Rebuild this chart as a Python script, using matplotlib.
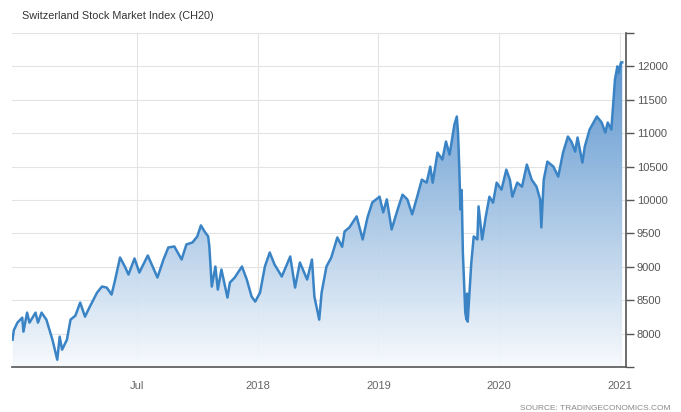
import numpy as np
import matplotlib
matplotlib.use("Agg")
import matplotlib.pyplot as plt
from matplotlib.colors import LinearSegmentedColormap

plt.rcParams["font.family"] = ["Liberation Sans", "DejaVu Sans"]

# decimal year positions and index values
years = [
    2015.97, 2015.98, 2016.01, 2016.05, 2016.06, 2016.09, 2016.11, 2016.16, 2016.18, 2016.21,
    2016.25, 2016.28, 2016.30, 2016.34, 2016.36, 2016.38, 2016.42, 2016.45, 2016.49, 2016.53,
    2016.57, 2016.61, 2016.67, 2016.71, 2016.75, 2016.79, 2016.82, 2016.86, 2016.90, 2016.93,
    2016.98, 2017.02, 2017.09, 2017.17, 2017.22, 2017.26, 2017.31, 2017.37, 2017.41, 2017.46,
    2017.50, 2017.53, 2017.56, 2017.59, 2017.60, 2017.62, 2017.65, 2017.67, 2017.70, 2017.75,
    2017.77, 2017.81, 2017.87, 2017.91, 2017.95, 2017.98, 2018.02, 2018.06, 2018.10, 2018.14,
    2018.20, 2018.27, 2018.31, 2018.35, 2018.41, 2018.45, 2018.47, 2018.51, 2018.53, 2018.57,
    2018.61, 2018.66, 2018.70, 2018.72, 2018.76, 2018.82, 2018.87, 2018.91, 2018.95, 2019.01,
    2019.04, 2019.07, 2019.11, 2019.16, 2019.20, 2019.24, 2019.28, 2019.32, 2019.36, 2019.40,
    2019.43, 2019.45, 2019.49, 2019.53, 2019.56, 2019.59, 2019.62, 2019.63, 2019.65, 2019.66,
    2019.67, 2019.68, 2019.69, 2019.70, 2019.72, 2019.73, 2019.735, 2019.74, 2019.77, 2019.79,
    2019.82, 2019.83, 2019.86, 2019.89, 2019.92, 2019.95, 2019.98, 2020.02, 2020.06, 2020.09,
    2020.11, 2020.15, 2020.19, 2020.23, 2020.27, 2020.31, 2020.34, 2020.35, 2020.37, 2020.40,
    2020.45, 2020.49, 2020.53, 2020.57, 2020.60, 2020.63, 2020.65, 2020.69, 2020.71, 2020.75,
    2020.81, 2020.85, 2020.88, 2020.90, 2020.93, 2020.94, 2020.96, 2020.98, 2020.99, 2021.01,
    2021.02,
]
values = [
    7910, 8050, 8165, 8240, 8030, 8315, 8165, 8315, 8165, 8315,
    8210, 8030, 7910, 7610, 7955, 7760, 7910, 8210, 8270, 8465,
    8255, 8405, 8615, 8705, 8690, 8585, 8810, 9140, 9005, 8885,
    9125, 8915, 9170, 8840, 9110, 9290, 9305, 9110, 9335, 9365,
    9455, 9620, 9530, 9455, 9300, 8705, 9005, 8660, 8960, 8540,
    8765, 8840, 9005, 8810, 8555, 8480, 8615, 9005, 9215, 9035,
    8855, 9155, 8690, 9065, 8810, 9110, 8555, 8210, 8615, 9005,
    9140, 9440, 9300, 9530, 9590, 9755, 9410, 9740, 9965, 10050,
    9815, 10010, 9560, 9860, 10080, 10010, 9785, 10040, 10305, 10260,
    10500, 10260, 10710, 10605, 10875, 10680, 11010, 11130, 11250, 11000,
    10500, 9860, 10150, 9215, 8315, 8210, 8600, 8180, 9065, 9455,
    9410, 9905, 9410, 9755, 10050, 9960, 10260, 10155, 10455, 10300,
    10050, 10260, 10200, 10530, 10305, 10200, 10010, 9590, 10305, 10575,
    10500, 10350, 10710, 10950, 10870, 10725, 10935, 10560, 10800, 11055,
    11250, 11160, 11010, 11160, 11055, 11310, 11805, 12000, 11900, 12060,
    12060,
]

tick_pos = [2017, 2018, 2019, 2020, 2021]
tick_labels = ["Jul", "2018", "2019", "2020", "2021"]
y_ticks = [7500, 8000, 8500, 9000, 9500, 10000, 10500, 11000, 11500, 12000, 12500]

x0, x1 = 2015.965, 2021.05
y0, y1 = 7500, 12500

fig = plt.figure(figsize=(6.81, 4.12), dpi=100)
ax = fig.add_axes([0.0176, 0.109, 0.9014, 0.811])

# gradient fill under the line
cmap = LinearSegmentedColormap.from_list("fillgrad", ["#f7fafd", "#3f82c6"])
grad = np.linspace(0, 1, 256).reshape(-1, 1)
img = ax.imshow(grad, cmap=cmap, origin="lower", aspect="auto",
                extent=[x0, x1, y0, y1], zorder=1, alpha=0.92)
poly = ax.fill_between(years, values, y0, facecolor="none", edgecolor="none")
img.set_clip_path(poly.get_paths()[0], transform=ax.transData)

ax.plot(years, values, color="#3a84c6", linewidth=1.8, zorder=3)

ax.set_xlim(x0, x1)
ax.set_ylim(y0, y1)

ax.set_xticks(tick_pos)
ax.set_xticklabels(tick_labels)
ax.set_yticks(y_ticks)
ax.set_yticklabels(["" if v in (7500, 12500) else str(v) for v in y_ticks])
ax.yaxis.tick_right()

ax.grid(True, color="#e3e3e3", linewidth=0.8, zorder=0)
ax.set_axisbelow(True)

for side in ["top", "left"]:
    ax.spines[side].set_visible(False)
ax.spines["bottom"].set_color("#555555")
ax.spines["right"].set_color("#555555")
ax.spines["bottom"].set_linewidth(1.2)
ax.spines["right"].set_linewidth(1.2)

ax.tick_params(axis="x", length=0, pad=10, labelsize=8, labelcolor="#666666")
ax.tick_params(axis="y", length=6, width=1, color="#555555", pad=2,
               labelsize=8, labelcolor="#555555")

fig.text(22 / 681, 1 - 16 / 412, "Switzerland Stock Market Index (CH20)",
         fontsize=7.8, color="#333333", va="center", ha="left")
fig.text(670 / 681, 1 - 408 / 412, "SOURCE: TRADINGECONOMICS.COM",
         fontsize=6, color="#888888", va="center", ha="right")

fig.savefig("out.png", dpi=100)
